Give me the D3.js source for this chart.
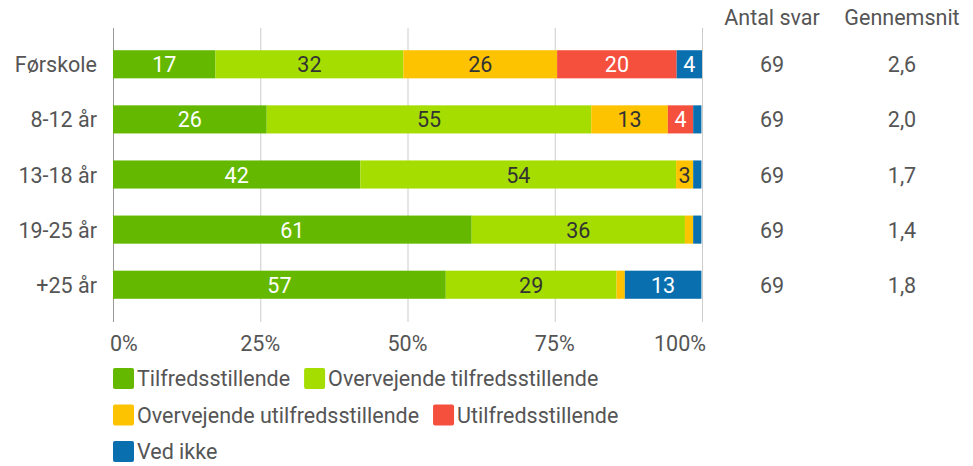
<!DOCTYPE html>
<meta charset="utf-8">
<style>
    html,
    body {
        margin: 0;
        padding: 0;
        background: #fff;
    }

    text {
        font-family: Roboto, "Open Sans", sans-serif;
    }
</style>
<svg id="canvas" width="973" height="466"></svg>
<script src="https://cdnjs.cloudflare.com/ajax/libs/d3/7.8.5/d3.min.js"></script>
<script>
    // data (percent of answers per group)
    const groups = ["Førskole", "8-12 år", "13-18 år", "19-25 år", "+25 år"];
    const answers = ["Tilfredsstillende", "Overvejende tilfredsstillende", "Overvejende utilfredsstillende", "Utilfredsstillende", "Ved ikke"];
    const tilfreds = [17.4, 26.1, 42.0, 60.9, 56.5];
    const overvejTilfreds = [31.9, 55.1, 53.6, 36.2, 29.0];
    const overvejUtilfreds = [26.1, 13.0, 2.9, 1.4, 1.4];
    const utilfreds = [20.3, 4.3, 0, 0, 0];
    const vedIkke = [4.3, 1.4, 1.4, 1.4, 13.0];
    const antalSvar = ["69", "69", "69", "69", "69"];
    const gennemsnit = ["2,6", "2,0", "1,7", "1,4", "1,8"];
    const ticks = [0, 25, 50, 75, 100];

    const colors = ["#64b900", "#a5dd00", "#fdc300", "#f5503d", "#0a6fae"];
    const labelColors = ["#fff", "#333", "#333", "#fff", "#fff"];

    const series = [tilfreds, overvejTilfreds, overvejUtilfreds, utilfreds, vedIkke];

    const FS = 21.5;

    var svg = d3.select("svg");

    var x = d3.scaleLinear().domain([0, 100]).range([113, 702]);
    var y = d3.scaleBand().domain(groups).range([37, 312]).paddingInner(0.49).paddingOuter(0.24);

    //gridlines
    svg.append("g")
        .selectAll("line")
        .data(ticks)
        .enter().append("line")
        .attr("x1", d => x(d) + 0.5)
        .attr("x2", d => x(d) + 0.5)
        .attr("y1", 28)
        .attr("y2", 322)
        .attr("stroke", d => d === 0 ? "#9a9a9a" : "#cccccc")
        .attr("stroke-width", 1);

    //tick labels
    svg.append("g")
        .selectAll("text")
        .data(ticks)
        .enter().append("text")
        .attr("x", d => d === 0 ? x(d) - 3 : d === 100 ? x(d) + 4 : x(d))
        .attr("y", 351)
        .attr("text-anchor", d => d === 0 ? "start" : d === 100 ? "end" : "middle")
        .attr("font-size", FS)
        .attr("fill", "#555")
        .text(d => d + "%");

    //stacked bars
    var stack = [];
    groups.forEach(function(g, i) {
        var x0 = 0;
        series.forEach(function(s, j) {
            stack.push({ group: g, idx: j, x0: x0, x1: x0 + s[i], v: s[i] });
            x0 += s[i];
        });
    });

    var segs = svg.append("g")
        .selectAll("g")
        .data(stack.filter(d => d.v > 0))
        .enter().append("g");

    segs.append("rect")
        .attr("x", d => x(d.x0))
        .attr("y", d => y(d.group))
        .attr("width", d => x(d.x1) - x(d.x0))
        .attr("height", y.bandwidth())
        .attr("fill", d => colors[d.idx]);

    segs.filter(d => d.v >= 2.5)
        .append("text")
        .attr("x", d => (x(d.x0) + x(d.x1)) / 2)
        .attr("y", d => y(d.group) + y.bandwidth() / 2 + 8)
        .attr("text-anchor", "middle")
        .attr("font-size", FS)
        .attr("fill", d => labelColors[d.idx])
        .text(d => Math.round(d.v));

    //category labels
    svg.append("g")
        .selectAll("text")
        .data(groups)
        .enter().append("text")
        .attr("x", 97)
        .attr("y", d => y(d) + y.bandwidth() / 2 + 8)
        .attr("text-anchor", "end")
        .attr("font-size", FS)
        .attr("fill", "#555")
        .text(d => d);

    //right side columns
    var cols = [{ title: "Antal svar", cx: 772, vals: antalSvar }, { title: "Gennemsnit", cx: 902, vals: gennemsnit }];
    cols.forEach(function(c) {
        svg.append("text")
            .attr("x", c.cx)
            .attr("y", 25)
            .attr("text-anchor", "middle")
            .attr("font-size", FS)
            .attr("fill", "#555")
            .text(c.title);
        svg.append("g")
            .selectAll("text")
            .data(groups)
            .enter().append("text")
            .attr("x", c.cx)
            .attr("y", d => y(d) + y.bandwidth() / 2 + 8)
            .attr("text-anchor", "middle")
            .attr("font-size", FS)
            .attr("fill", "#555")
            .text((d, i) => c.vals[i]);
    });

    //legend, wraps at the bar end
    var legend = svg.append("g");
    var lx = 113, ly = 368;
    answers.forEach(function(a, i) {
        var item = legend.append("g");
        item.append("rect")
            .attr("width", 21)
            .attr("height", 21)
            .attr("rx", 2)
            .attr("fill", colors[i]);
        var t = item.append("text")
            .attr("x", 24)
            .attr("y", 18)
            .attr("font-size", FS)
            .attr("fill", "#555")
            .text(a);
        var w = 24 + t.node().getComputedTextLength();
        if (lx > 113 && lx + w > 702) {
            lx = 113;
            ly += 36.5;
        }
        item.attr("transform", `translate(${lx},${ly})`);
        lx += w + 14;
    });
</script>
